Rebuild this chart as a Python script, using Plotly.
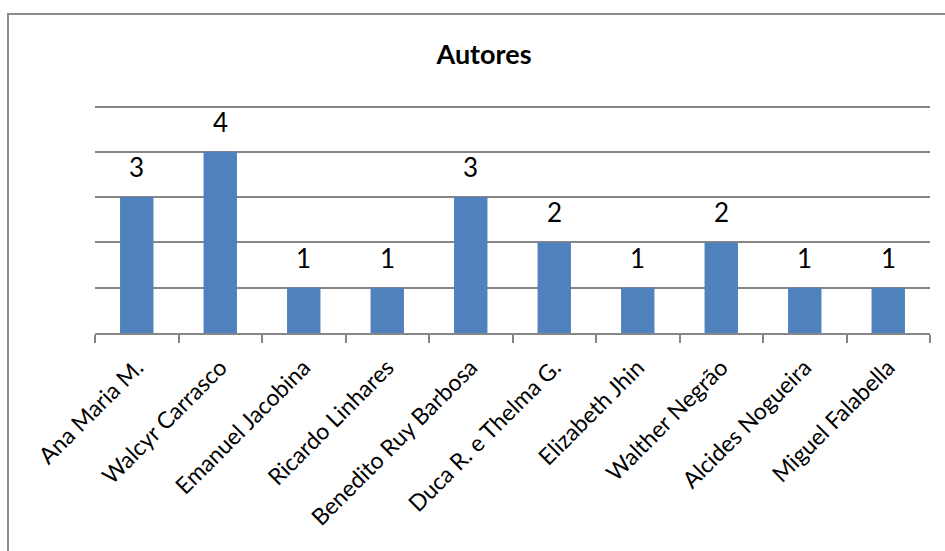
import plotly.graph_objects as go

# Authors and number of works per author
autores = ["Ana Maria M.", "Walcyr Carrasco", "Emanuel Jacobina", "Ricardo Linhares",
           "Benedito Ruy Barbosa", "Duca R. e Thelma G.", "Elizabeth Jhin",
           "Walther Negrão", "Alcides Nogueira", "Miguel Falabella"]
quantidades = [3, 4, 1, 1, 3, 2, 1, 2, 1, 1]

FONT = "Lato"
W, H = 945, 551
YMAX = 5.1
L, R, T, B = 95, 15, 102, 218
pw, ph = W - L - R, H - T - B

fig = go.Figure(go.Bar(
    x=autores, y=quantidades,
    marker=dict(color="#4F81BD", line=dict(width=0)),
    hoverinfo="x+y",
))

# value labels above each bar
for nome, v in zip(autores, quantidades):
    fig.add_annotation(x=nome, y=v, text=str(v), showarrow=False,
                       yanchor="bottom", yshift=12,
                       font=dict(size=26, color="black", family=FONT))

fig.update_layout(
    width=W, height=H,
    margin=dict(l=L, r=R, t=T, b=B),
    paper_bgcolor="white", plot_bgcolor="white",
    bargap=0.6,
    showlegend=False,
    title=dict(text="<b>Autores</b>", x=484 / W, xanchor="center",
               y=1 - 55 / H, yanchor="middle",
               font=dict(size=27, color="black", family=FONT)),
    xaxis=dict(
        tickangle=-45, tickfont=dict(size=23, color="black", family=FONT),
        ticklabelstandoff=10,
        showline=True, linecolor="#868686", linewidth=2,
        ticks="outside", tickson="boundaries", ticklen=8, tickcolor="#868686", tickwidth=2,
        showgrid=False,
    ),
    yaxis=dict(
        range=[0, YMAX], dtick=1, showticklabels=False,
        showgrid=True, gridcolor="#868686", gridwidth=2,
        zeroline=False, showline=False, ticks="",
    ),
    shapes=[dict(
        type="rect", xref="paper", yref="paper",
        x0=(8 - L) / pw, x1=(W + 20 - L) / pw,
        y0=-(H + 20 - T - ph) / ph, y1=(T + ph - 14) / ph,
        line=dict(color="#8C8C8C", width=2), fillcolor="rgba(0,0,0,0)", layer="below",
    )],
)

fig.write_html("out.html")
